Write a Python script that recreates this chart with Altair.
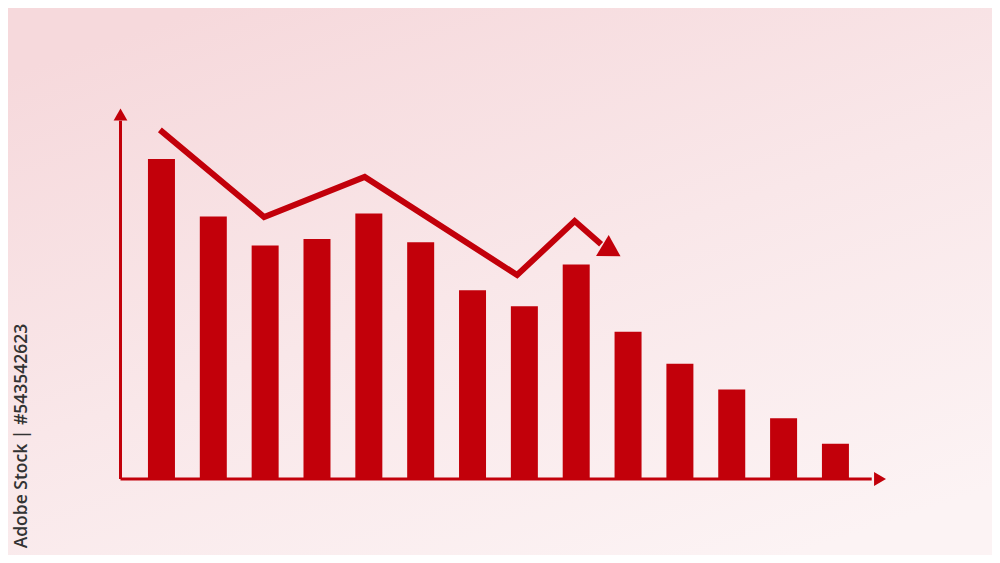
import altair as alt
import pandas as pd

# ---- data ----
bar_index = list(range(1, 15))
bar_values = [100, 82, 73, 75, 83, 74, 59, 54, 67, 46, 36, 28, 19, 11]

trend_x = [0.97, 2.98, 4.92, 7.86, 8.97, 9.48]
trend_y = [109.1, 81.9, 94.4, 63.75, 80.6, 73.4]
trend_head = {"x": 9.68, "y": 71.3}

axis_x0, axis_x1 = 0.21, 14.7
axis_ytop = 112

caption = "Adobe Stock | #543542623"

RED = "#c2000a"
W, H = 984, 547

xs = alt.Scale(domain=[-1.96, 17.02], nice=False, zero=False, padding=0)
ys = alt.Scale(domain=[-23.75, 147.2], nice=False, zero=False, padding=0)

bars_df = pd.DataFrame({"i": bar_index, "v": bar_values})
trend_df = pd.DataFrame({"x": trend_x, "y": trend_y, "o": range(len(trend_x))})
one = pd.DataFrame({"a": [0]})

bg = alt.Chart(one).mark_rect(
    color=alt.Gradient(
        gradient="linear",
        stops=[alt.GradientStop(color="#f6d9dc", offset=0),
               alt.GradientStop(color="#f9e7e9", offset=0.5),
               alt.GradientStop(color="#fcf3f4", offset=1)],
        x1=0.2, y1=0, x2=0.8, y2=1,
    )
).encode(x=alt.value(0), x2=alt.value(W), y=alt.value(0), y2=alt.value(H))

bars = alt.Chart(bars_df).mark_bar(color=RED, size=27).encode(
    x=alt.X("i:Q", scale=xs, axis=None),
    y=alt.Y("v:Q", scale=ys, axis=None),
    y2=alt.datum(0),
)

yaxis = alt.Chart(one).mark_rule(color=RED, strokeWidth=3).encode(
    x=alt.X("x0:Q", scale=xs, axis=None),
    y=alt.Y("y0:Q", scale=ys, axis=None),
    y2="y1:Q",
).transform_calculate(x0=str(axis_x0), y0="0", y1=str(axis_ytop))

xaxis = alt.Chart(one).mark_rule(color=RED, strokeWidth=3).encode(
    x=alt.X("x0:Q", scale=xs, axis=None),
    x2="x1:Q",
    y=alt.Y("y0:Q", scale=ys, axis=None),
).transform_calculate(x0=str(axis_x0), x1=str(axis_x1), y0="0")

yhead = alt.Chart(one).mark_point(shape="triangle-up", filled=True, opacity=1,
                                  color=RED, size=190).encode(
    x=alt.X("x0:Q", scale=xs, axis=None),
    y=alt.Y("y0:Q", scale=ys, axis=None),
).transform_calculate(x0=str(axis_x0), y0="113.9")

xhead = alt.Chart(one).mark_point(shape="triangle-right", filled=True, opacity=1,
                                  color=RED, size=190).encode(
    x=alt.X("x0:Q", scale=xs, axis=None),
    y=alt.Y("y0:Q", scale=ys, axis=None),
).transform_calculate(x0="14.86", y0="0")

trend = alt.Chart(trend_df).mark_line(color=RED, strokeWidth=6, strokeCap="butt",
                                      strokeJoin="miter").encode(
    x=alt.X("x:Q", scale=xs, axis=None),
    y=alt.Y("y:Q", scale=ys, axis=None),
    order="o:Q",
)

thead = alt.Chart(one).mark_point(shape="triangle-right", filled=True, opacity=1,
                                  color=RED, size=600, angle=31).encode(
    x=alt.X("x0:Q", scale=xs, axis=None),
    y=alt.Y("y0:Q", scale=ys, axis=None),
).transform_calculate(x0=str(trend_head["x"]), y0=str(trend_head["y"]))

label = alt.Chart(one).mark_text(text=caption, angle=270, font="Open Sans",
                                 fontSize=17.5, fontWeight=600, color="#333333").encode(
    x=alt.value(14), y=alt.value(428)
)

chart = alt.layer(bg, bars, yaxis, xaxis, yhead, xhead, trend, thead, label).properties(
    width=W, height=H, padding=0,
    autosize=alt.AutoSizeParams(type="none"),
).configure_view(stroke=None).configure(background="#f9e8ea")

chart.save("out.html", embed_options={"renderer": "svg", "actions": False})
